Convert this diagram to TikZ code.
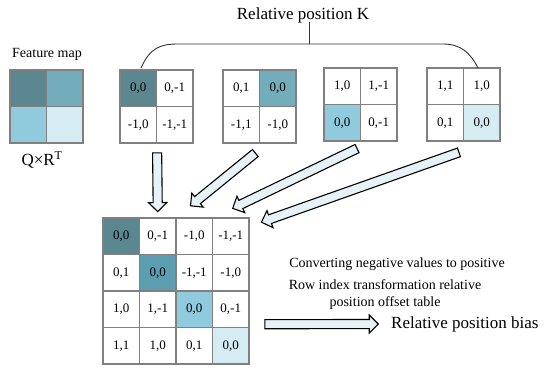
\documentclass[tikz,border=0pt]{standalone}
\usepackage{fontspec}
\setmainfont{Liberation Serif}
\usepackage{tikz}
\usetikzlibrary{calc,shapes.arrows}
\definecolor{tealdark}{RGB}{91,135,144}
\definecolor{tealmid}{RGB}{115,173,188}
\definecolor{tealdeep}{RGB}{92,158,175}
\definecolor{teallight}{RGB}{143,203,220}
\definecolor{tealpale}{RGB}{214,236,243}
\definecolor{arrowfill}{RGB}{230,242,246}
\definecolor{cellline}{RGB}{128,128,128}
\newcommand{\hollowarrow}[2]{%
  \path let \p1=($(#2)-(#1)$), \n1={atan2(\y1,\x1)}, \n2={veclen(\x1,\y1)} in
    node[blockarrow, rotate=\n1, minimum height=\n2] at ($(#1)!0.5!(#2)$) {};}

\begin{document}
\begin{tikzpicture}[x=1pt, y=-1pt,
  cell/.style={draw=cellline, line width=1.2pt, minimum size=36.5pt, inner sep=0pt,
    font=\fontsize{13}{15}\selectfont},
  blockarrow/.style={single arrow, draw=black, line width=1.1pt, fill=arrowfill,
    inner sep=4pt, single arrow head extend=4.5pt, single arrow head indent=0pt},
  txt/.style={font=\fontsize{14}{17}\selectfont, inner sep=1pt},
  bigtxt/.style={font=\fontsize{17}{20}\selectfont, inner sep=1pt}]
  \useasboundingbox (0,0) rectangle (550,370);

  % Feature map
  \node[txt] (fmlabel) at (47,54) {Feature map};
  \node[cell, fill=tealdark]  (f11) at (28.25,88.25) {};
  \node[cell, fill=tealmid]   (f12) at (64.75,88.25) {};
  \node[cell, fill=teallight] (f21) at (28.25,124.75) {};
  \node[cell, fill=tealpale]  (f22) at (64.75,124.75) {};
  \node[bigtxt] (qr) at (42,160) {Q×R\textsuperscript{T}};

  % Relative position K: four 2x2 tables
  \node[cell, fill=tealdark] (ka11) at (138.25,88.25) {0,0};
  \node[cell] (ka12) at (174.75,88.25) {0,-1};
  \node[cell] (ka21) at (138.25,124.75) {-1,0};
  \node[cell] (ka22) at (174.75,124.75) {-1,-1};

  \node[cell] (kb11) at (241.25,88.25) {0,1};
  \node[cell, fill=tealmid] (kb12) at (277.75,88.25) {0,0};
  \node[cell] (kb21) at (241.25,124.75) {-1,1};
  \node[cell] (kb22) at (277.75,124.75) {-1,0};

  \node[cell] (kc11) at (342.25,86.25) {1,0};
  \node[cell] (kc12) at (378.75,86.25) {1,-1};
  \node[cell, fill=teallight] (kc21) at (342.25,122.75) {0,0};
  \node[cell] (kc22) at (378.75,122.75) {0,-1};

  \node[cell] (kd11) at (445.25,86.25) {1,1};
  \node[cell] (kd12) at (481.75,86.25) {1,0};
  \node[cell] (kd21) at (445.25,122.75) {0,1};
  \node[cell, fill=tealpale] (kd22) at (481.75,122.75) {0,0};

  % Brace over the four tables
  \draw[black!80, line width=0.9pt] (141,68) .. controls (150,48) and (160,44) .. (178,44)
    -- (443,44) .. controls (460,44) and (470,52) .. (478,68);
  \draw[black!80, line width=0.9pt] (309,44) -- (309,22);
  \node[bigtxt] (klabel) at (303,15) {Relative position K};

  % Merged offset table
  \node[cell, fill=tealdark] (t11) at (121.25,236.25) {0,0};
  \node[cell] (t12) at (157.75,236.25) {0,-1};
  \node[cell] (t13) at (194.25,236.25) {-1,0};
  \node[cell] (t14) at (230.75,236.25) {-1,-1};
  \node[cell] (t21) at (121.25,272.75) {0,1};
  \node[cell, fill=tealdeep] (t22) at (157.75,272.75) {0,0};
  \node[cell] (t23) at (194.25,272.75) {-1,-1};
  \node[cell] (t24) at (230.75,272.75) {-1,0};
  \node[cell] (t31) at (121.25,309.25) {1,0};
  \node[cell] (t32) at (157.75,309.25) {1,-1};
  \node[cell, fill=teallight] (t33) at (194.25,309.25) {0,0};
  \node[cell] (t34) at (230.75,309.25) {0,-1};
  \node[cell] (t41) at (121.25,345.75) {1,1};
  \node[cell] (t42) at (157.75,345.75) {1,0};
  \node[cell] (t43) at (194.25,345.75) {0,1};
  \node[cell, fill=tealpale] (t44) at (230.75,345.75) {0,0};

  % Block arrows into the table
  \coordinate (a1s) at ($(ka21.south east)+(0,7)$);
  \coordinate (a1e) at ($(t12.north)+(0,-8)$);
  \coordinate (a2s) at ($(kb21.south east)+(-3,8)$);
  \coordinate (a2e) at ($(t13.north)+(-2,-13)$);
  \coordinate (a3s) at ($(kc21.south east)+(-2,6)$);
  \coordinate (a3e) at ($(t14.north)+(4,-10)$);
  \coordinate (a4s) at ($(kd21.south east)+(-3,10)$);
  \coordinate (a4e) at ($(t14.north east)+(14,4)$);
  \hollowarrow{a1s}{a1e}
  \hollowarrow{a2s}{a2e}
  \hollowarrow{a3s}{a3e}
  \hollowarrow{a4s}{a4e}

  % Notes and result
  \node[txt] (note1) at (397,264) {Converting negative values to positive};
  \node[txt, align=center] (note2) at (385,294.5) {Row index transformation relative\\position offset table};
  \node[bigtxt, anchor=west] (bias) at (390,324) {Relative position bias};
  \coordinate (b1s) at ($(t34.east)+(13,15)$);
  \coordinate (b1e) at ($(bias.west)+(-14,0)$);
  \hollowarrow{b1s}{b1e}
\end{tikzpicture}
\end{document}
